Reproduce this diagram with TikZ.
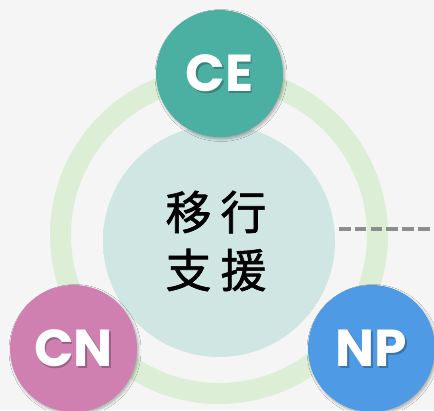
\documentclass[tikz,border=0pt]{standalone}
\usepackage{fontspec}
\usetikzlibrary{shadows.blur}
\newfontfamily\popfont{Poppins}
\newfontfamily\jpfont[FakeBold=1.3]{Noto Sans CJK JP}
\definecolor{bgc}{HTML}{F5F5F5}
\definecolor{ringc}{HTML}{DCEFD6}
\definecolor{discc}{HTML}{CFE6E2}
\definecolor{cec}{HTML}{4BAFA1}
\definecolor{cnc}{HTML}{D080B0}
\definecolor{npc}{HTML}{4F9AE4}
\definecolor{dashc}{HTML}{888888}
\pgfdeclareradialshading{softdisc}{\pgfpoint{0bp}{0bp}}{color(0bp)=(discc); color(45bp)=(discc); color(50bp)=(bgc)}
\tikzset{
  bubble/.style={circle, minimum size=127pt, inner sep=0pt,
    blur shadow={shadow xshift=1.5pt, shadow yshift=-2pt, shadow blur radius=2.5pt, shadow opacity=30}},
  bubtext/.style={text=white, font=\popfont\bfseries\fontsize{52}{52}\selectfont, inner sep=0pt},
  bubshadow/.style={text=black, opacity=0.25, font=\popfont\bfseries\fontsize{52}{52}\selectfont, inner sep=0pt},
}
\begin{document}
\begin{tikzpicture}[x=1pt,y=-1pt]
\fill[bgc] (0,0) rectangle (434,410);
\useasboundingbox (0,0) rectangle (434,410);
\coordinate (ctr) at (219,235);
\coordinate (dashstart) at (339,229);
\coordinate (dashend) at (434,229);
% ring
\draw[ringc, line width=21pt] (ctr) circle[radius=158.5];
% dashed line
\draw[dashc, line width=3.5pt, dash pattern=on 11.5pt off 4.3pt, opacity=0.95] (dashstart) -- (dashend);
% central disc
\shade[shading=softdisc] (219,241) circle[radius=116];
\node[font=\jpfont\fontsize{46}{58}\selectfont, align=center, inner sep=0pt] (core) at (216,241) {移\hspace{9pt}行\\支\hspace{9pt}援};
% bubbles
\node[bubble, fill=cec] (ce) at (219.5,73.5) {};
\node[bubble, fill=cnc] (cn) at (73.5,348.5) {};
\node[bubble, fill=npc] (np) at (371.5,348.5) {};
\node[bubshadow] at ([shift={(1.5,1.5)}]ce) {CE};
\node[bubtext] (tce) at (ce) {CE};
\node[bubshadow] at ([shift={(1.5,1.5)}]cn) {CN};
\node[bubtext] (tcn) at (cn) {CN};
\node[bubshadow] at ([shift={(1.5,1.5)}]np) {NP};
\node[bubtext] (tnp) at (np) {NP};
\end{tikzpicture}
\end{document}
